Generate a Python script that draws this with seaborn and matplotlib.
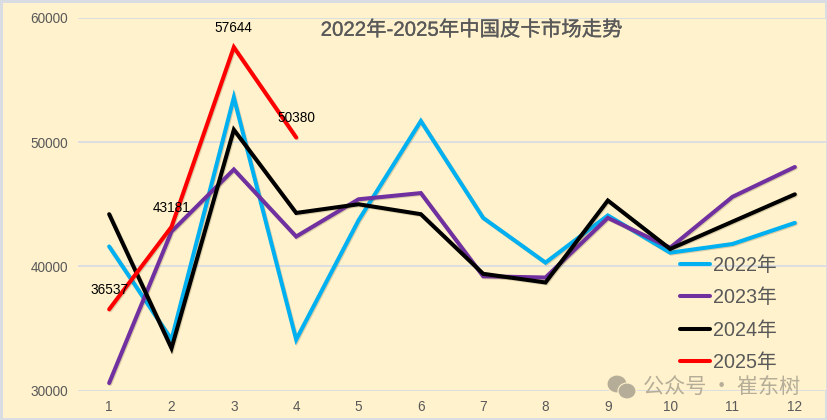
import matplotlib
matplotlib.use("Agg")
import matplotlib.pyplot as plt
import matplotlib.patheffects as pe
from matplotlib.patches import Ellipse
import pandas as pd
import seaborn as sns

months = list(range(1, 13))
y2022 = [41600, 34100, 53600, 34100, 43700, 51700, 43900, 40300, 44100, 41100, 41800, 43500]
y2023 = [30600, 42800, 47800, 42400, 45400, 45900, 39200, 39100, 43900, 41500, 45600, 48000]
y2024 = [44200, 33400, 51000, 44300, 45000, 44200, 39400, 38700, 45300, 41400, 43600, 45800]
y2025 = [36537, 43181, 57644, 50380]
series_names = ["2022年", "2023年", "2024年", "2025年"]
colors = ["#00B0F0", "#7030A0", "#000000", "#FF0000"]
title = "2022年-2025年中国皮卡市场走势"
watermark = "公众号 · 崔东树"
yticks = [30000, 40000, 50000, 60000]

BG = "#FFF2CC"
sns.set_theme(style="white")
plt.rcParams["font.family"] = ["Liberation Sans", "Noto Sans CJK SC", "DejaVu Sans"]

rows = []
for name, vals in zip(series_names, [y2022, y2023, y2024, y2025]):
    for m, v in zip(months, vals):
        rows.append({"month": m, "sales": v, "series": name})
df = pd.DataFrame(rows)

W, H = 827, 420
fig = plt.figure(figsize=(W / 100, H / 100), dpi=100, facecolor=BG,
                 edgecolor="#D9DCE3", linewidth=2.5)
ax = fig.add_axes([78 / W, 1 - 390.5 / H, (826 - 78) / W, (390.5 - 18) / H])
ax.set_facecolor(BG)

sns.lineplot(data=df, x="month", y="sales", hue="series", hue_order=series_names,
             palette=colors, linewidth=2.9, ax=ax, errorbar=None, legend=False,
             solid_capstyle="round", solid_joinstyle="miter", clip_on=False, zorder=3)
for line in ax.get_lines():
    line.set_path_effects([
        pe.SimpleLineShadow(offset=(0.7, -0.7), alpha=0.22, shadow_color="#5a4a20"),
        pe.Normal(),
    ])

ax.set_xlim(0.5, 12.5)
ax.set_ylim(30000, 60000)
ax.set_xticks(months)
ax.set_yticks(yticks)
ax.set_xlabel("")
ax.set_ylabel("")
ax.grid(axis="y", color="#D9DCE3", linewidth=1.3, zorder=0)
ax.grid(axis="x", visible=False)
ax.set_axisbelow(True)
for s in ax.spines.values():
    s.set_visible(False)
ax.tick_params(axis="both", length=0, labelsize=9.8, labelcolor="#595959")
ax.tick_params(axis="x", pad=6.5)
ax.tick_params(axis="y", pad=7)

for m, v in zip(months, y2025):
    ax.annotate(str(v), (m, v), xytext=(0, 13.7), textcoords="offset points",
                ha="center", va="center", fontsize=9.8, color="black", zorder=5)

fig.text(471 / W, 1 - 30 / H, title, ha="center", va="center", fontsize=14.7,
         color="#595959", path_effects=[pe.withStroke(linewidth=0.2, foreground="#595959")])

# legend
handles = [plt.Line2D([], [], color=c, linewidth=2.9, solid_capstyle="round") for c in colors]
leg = ax.legend(handles, series_names, loc="upper left",
                bbox_to_anchor=(678 / W, 1 - 254 / H), bbox_transform=fig.transFigure,
                frameon=False, fontsize=14.2, labelcolor="#595959", handlelength=1.52,
                handletextpad=0.15, labelspacing=0.68, borderpad=0.1, borderaxespad=0)
leg.set_zorder(6)

# watermark
wm = "#B5AD98"
fig.text(643 / W, 1 - 387 / H, watermark, ha="left", va="center", fontsize=15.2, color=wm,
         family=["Noto Sans CJK SC", "DejaVu Sans"])
for cx, cy, rx, ry in [(617, 384, 10, 9), (627, 391, 9, 8)]:
    fig.add_artist(Ellipse((cx / W, 1 - cy / H), 2 * rx / W, 2 * ry / H, facecolor=wm,
                           edgecolor=BG, linewidth=0.8, transform=fig.transFigure))

fig.savefig("out.png", dpi=100)
